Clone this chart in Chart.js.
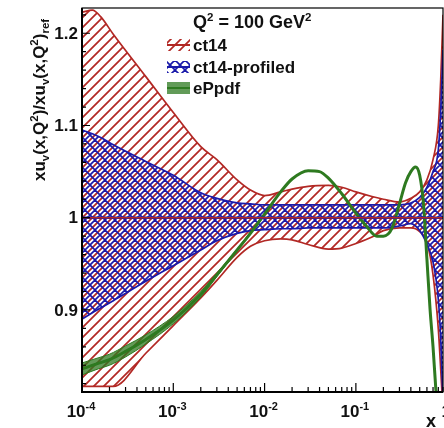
<!DOCTYPE html>
<html lang="en">
<head>
<meta charset="UTF-8">
<title>xu_v ratio, Q2 = 100 GeV2</title>
<script src="https://cdn.jsdelivr.net/npm/chart.js"></script>
<style>
  html, body { margin: 0; padding: 0; background: #fff; }
  #chart { display: block; }
</style>
</head>
<body>
<canvas id="chart" width="444" height="428"></canvas>
<script>
// ---- data ----
const bandX = [1e-4, 1.3e-4, 1.6e-4, 2.2e-4, 5e-4, 1e-3, 2e-3, 3e-3, 5e-3, 7e-3, 1e-2, 1.5e-2, 2e-2, 3e-2, 5e-2, 7e-2, 0.1, 0.15, 0.2, 0.3, 0.4, 0.5, 0.6, 0.7, 0.8, 0.85, 0.9];
const ct14Up = [1.223, 1.225, 1.218, 1.199, 1.153, 1.114, 1.077, 1.063, 1.041, 1.030, 1.024, 1.028, 1.031, 1.034, 1.035, 1.033, 1.028, 1.023, 1.020, 1.017, 1.021, 1.028, 1.041, 1.063, 1.100, 1.150, 1.220];
const ct14Lo = [0.817, 0.817, 0.817, 0.817, 0.853, 0.883, 0.913, 0.932, 0.957, 0.969, 0.975, 0.977, 0.976, 0.971, 0.966, 0.967, 0.972, 0.979, 0.986, 0.989, 0.989, 0.985, 0.973, 0.938, 0.879, 0.835, 0.790];
const profUp = [1.095, 1.091, 1.087, 1.079, 1.061, 1.046, 1.027, 1.021, 1.016, 1.015, 1.014, 1.014, 1.014, 1.014, 1.014, 1.014, 1.014, 1.014, 1.014, 1.014, 1.016, 1.022, 1.033, 1.050, 1.074, 1.117, 1.182];
const profLo = [0.890, 0.897, 0.902, 0.910, 0.931, 0.948, 0.965, 0.975, 0.983, 0.986, 0.987, 0.988, 0.988, 0.989, 0.989, 0.989, 0.989, 0.989, 0.989, 0.991, 0.9935, 0.986, 0.971, 0.952, 0.911, 0.868, 0.800];

const ePX = [1e-4, 1.5e-4, 2e-4, 3e-4, 5e-4, 1e-3, 2e-3, 3e-3, 5e-3, 7e-3, 1e-2, 1.5e-2, 2e-2, 3e-2, 4e-2, 5e-2, 7e-2, 0.1, 0.13, 0.17, 0.2, 0.25, 0.3, 0.35, 0.4, 0.45, 0.5, 0.55, 0.6, 0.65, 0.7, 0.75, 0.8];
const ePpdf = [0.836, 0.842, 0.846, 0.855, 0.868, 0.889, 0.917, 0.938, 0.965, 0.983, 1.004, 1.028, 1.042, 1.051, 1.050, 1.043, 1.026, 1.005, 0.991, 0.980, 0.980, 0.989, 1.015, 1.038, 1.050, 1.055, 1.046, 1.015, 0.955, 0.900, 0.860, 0.815, 0.780];
const ePBandX = [1e-4, 1.5e-4, 2e-4, 3e-4, 5e-4, 1e-3, 2e-3, 3e-3, 5e-3, 1e-2];
const ePUp = [0.8425, 0.848, 0.852, 0.861, 0.873, 0.893, 0.920, 0.940, 0.966, 1.005];
const ePLo = [0.8295, 0.836, 0.840, 0.849, 0.863, 0.885, 0.914, 0.936, 0.964, 1.003];

const centralX = [1e-4, 0.9];
const ct14Central = [1, 1];
const profCentral = [1, 1];

const yTicks = [0.9, 1, 1.1, 1.2];
const yTickLabels = ['0.9', '1', '1.1', '1.2'];
const xTicks = [1e-4, 1e-3, 1e-2, 1e-1, 1];
const xTickBase = ['10', '10', '10', '10', '1'];
const xTickExp = ['-4', '-3', '-2', '-1', ''];

const legendTitle = ['Q', '2', ' = 100 GeV', '2'];
const legendNames = ['ct14', 'ct14-profiled', 'ePpdf'];

// ---- styles ----
const RED = 'rgb(178,40,36)';
const BLUE = 'rgb(26,26,170)';
const GREEN = 'rgb(46,122,32)';
const FONT = '"Liberation Sans", Arial, Helvetica, sans-serif';

function hatch(color, dirs, phase, size, width) {
    const c = document.createElement('canvas');
    c.width = size; c.height = size;
    const g = c.getContext('2d');
    g.strokeStyle = color;
    g.lineWidth = width;
    g.beginPath();
    dirs.forEach(d => {
        if (d === 'v') {
            g.moveTo(phase, 0); g.lineTo(phase, size);
            return;
        }
        for (let m = -1; m <= 2; m++) {
            const b = phase + m * size;
            if (d === '/') { g.moveTo(-1, b + 1); g.lineTo(size + 1, b - size - 1); }
            else { g.moveTo(-1, b - size - 1); g.lineTo(size + 1, b + 1); }
        }
    });
    g.stroke();
    return g.createPattern(c, 'repeat');
}

const ctx0 = document.getElementById('chart').getContext('2d');
const redHatch = hatch(RED, ['/'], 0, 10, 1.7);
const blueHatch = hatch(BLUE, ['/', '\\'], 5, 10, 1.6);
const greenHatch = hatch(GREEN, ['v'], 1, 2, 1.5);

const pts = (xa, ya) => xa.map((x, i) => ({ x: x, y: ya[i] }));

function richText(ctx, parts, x, y, big, small) {
    // parts: [text, kind] kind: n / sub / sup
    let cx = x;
    parts.forEach(([t, k]) => {
        if (!t) return;
        ctx.font = 'bold ' + (k === 'n' ? big : small) + 'px ' + FONT;
        const dy = k === 'sub' ? 4 : (k === 'sup' ? -7 : 0);
        ctx.fillText(t, cx, y + dy);
        cx += ctx.measureText(t).width;
    });
    return cx - x;
}

const decor = {
    id: 'decor',
    afterDraw(chart) {
        const ctx = chart.ctx, a = chart.chartArea;
        const xs = chart.scales.x, ys = chart.scales.y;
        ctx.save();

        // frame
        ctx.strokeStyle = '#000';
        ctx.lineWidth = 1.2;
        ctx.strokeRect(a.left, a.top, a.right - a.left, a.bottom - a.top);
        ctx.lineWidth = 2;
        ctx.beginPath();
        ctx.moveTo(a.left, a.top); ctx.lineTo(a.left, a.bottom); ctx.lineTo(a.right, a.bottom);
        ctx.stroke();

        // ticks
        ctx.lineWidth = 1.2;
        ctx.beginPath();
        for (let k = 41; k <= 61; k++) {
            const v = k / 50;
            const p = ys.getPixelForValue(v);
            if (p < a.top || p > a.bottom) continue;
            const len = (k % 5 === 0) ? 8 : 4;
            ctx.moveTo(a.left, p); ctx.lineTo(a.left + len, p);
        }
        xTicks.forEach(d => {
            for (let m = 1; m <= 9; m++) {
                const p = xs.getPixelForValue(d * m);
                if (p < a.left || p > a.right) continue;
                const len = m === 1 ? 9 : 5;
                ctx.moveTo(p, a.bottom); ctx.lineTo(p, a.bottom - len);
            }
        });
        ctx.stroke();

        ctx.fillStyle = '#111';
        // y tick labels
        ctx.font = 'bold 17px ' + FONT;
        ctx.textAlign = 'right';
        ctx.textBaseline = 'middle';
        yTicks.forEach((v, i) => ctx.fillText(yTickLabels[i], a.left - 4, ys.getPixelForValue(v) + 1));

        // x tick labels 10^n
        ctx.textAlign = 'left';
        ctx.textBaseline = 'alphabetic';
        xTicks.forEach((v, i) => {
            const p = xs.getPixelForValue(v);
            ctx.font = 'bold 17px ' + FONT;
            const w1 = ctx.measureText(xTickBase[i]).width;
            ctx.font = 'bold 11px ' + FONT;
            const w2 = xTickExp[i] ? ctx.measureText(xTickExp[i]).width : 0;
            const x0 = p - (w1 + w2) / 2 - 1;
            richText(ctx, [[xTickBase[i], 'n'], [xTickExp[i], 'sup']], x0, 417, 17, 11);
        });

        // x title
        ctx.font = 'bold 18px ' + FONT;
        ctx.fillText('x', 426, 427);

        // y title
        ctx.save();
        ctx.translate(45, 181);
        ctx.rotate(-Math.PI / 2);
        richText(ctx, [['xu', 'n'], ['v', 'sub'], ['(x,Q', 'n'], ['2', 'sup'], [')/xu', 'n'], ['v', 'sub'],
            ['(x,Q', 'n'], ['2', 'sup'], [')', 'n'], ['ref', 'sub']], 0, 0, 17, 11.5);
        ctx.restore();

        // legend
        richText(ctx, [[legendTitle[0], 'n'], [legendTitle[1], 'sup'], [legendTitle[2], 'n'], [legendTitle[3], 'sup']], 193, 28, 18, 11.5);
        const rows = [
            { y: 45, pat: redHatch, col: RED },
            { y: 67, pat: blueHatch, col: BLUE },
            { y: 88, pat: greenHatch, col: GREEN }
        ];
        rows.forEach((r, i) => {
            ctx.save();
            ctx.beginPath();
            ctx.rect(167, r.y - 6, 23, 12);
            ctx.clip();
            ctx.fillStyle = r.pat;
            ctx.fillRect(167, r.y - 6, 23, 12);
            ctx.restore();
            ctx.strokeStyle = r.col;
            ctx.lineWidth = 2;
            ctx.beginPath();
            ctx.moveTo(167, r.y); ctx.lineTo(190, r.y);
            ctx.stroke();
            ctx.fillStyle = '#111';
            ctx.font = 'bold 17px ' + FONT;
            ctx.fillText(legendNames[i], 193, r.y + 6);
        });
        ctx.restore();
    }
};

new Chart(ctx0, {
    type: 'line',
    data: {
        datasets: [
            { label: 'ct14 up', data: pts(bandX, ct14Up), borderColor: RED, borderWidth: 1.7, backgroundColor: redHatch, fill: '+1', order: 10 },
            { label: 'ct14 lo', data: pts(bandX, ct14Lo), borderColor: RED, borderWidth: 1.7, fill: false, order: 11 },
            { label: 'prof up', data: pts(bandX, profUp), borderColor: BLUE, borderWidth: 1.7, backgroundColor: blueHatch, fill: '+1', order: 8 },
            { label: 'prof lo', data: pts(bandX, profLo), borderColor: BLUE, borderWidth: 1.7, fill: false, order: 9 },
            { label: 'ePpdf up', data: pts(ePBandX, ePUp), borderColor: GREEN, borderWidth: 1, backgroundColor: greenHatch, fill: '+1', order: 6 },
            { label: 'ePpdf lo', data: pts(ePBandX, ePLo), borderColor: GREEN, borderWidth: 1, fill: false, order: 7 },
            { label: 'ePpdf', data: pts(ePX, ePpdf), borderColor: GREEN, borderWidth: 3, fill: false, order: 5 },
            { label: 'prof central', data: pts(centralX, profCentral), borderColor: BLUE, borderWidth: 2.6, fill: false, order: 4 },
            { label: 'ct14 central', data: pts(centralX, ct14Central), borderColor: RED, borderWidth: 1.6, fill: false, order: 3 }
        ]
    },
    options: {
        responsive: false,
        animation: false,
        events: [],
        layout: { padding: { top: 8, right: 1, left: 0, bottom: 0 } },
        datasets: { line: { clip: 0 } },
        elements: {
            point: { radius: 0 },
            line: { cubicInterpolationMode: 'monotone' }
        },
        plugins: { legend: { display: false }, tooltip: { enabled: false } },
        scales: {
            x: {
                type: 'logarithmic', min: 1e-4, max: 0.9,
                grid: { display: false }, border: { display: false },
                ticks: { display: false },
                afterFit: s => { s.height = 36; }
            },
            y: {
                type: 'linear', min: 0.811, max: 1.2274,
                grid: { display: false }, border: { display: false },
                ticks: { display: false },
                afterFit: s => { s.width = 82; }
            }
        }
    },
    plugins: [decor]
});
</script>
</body>
</html>
